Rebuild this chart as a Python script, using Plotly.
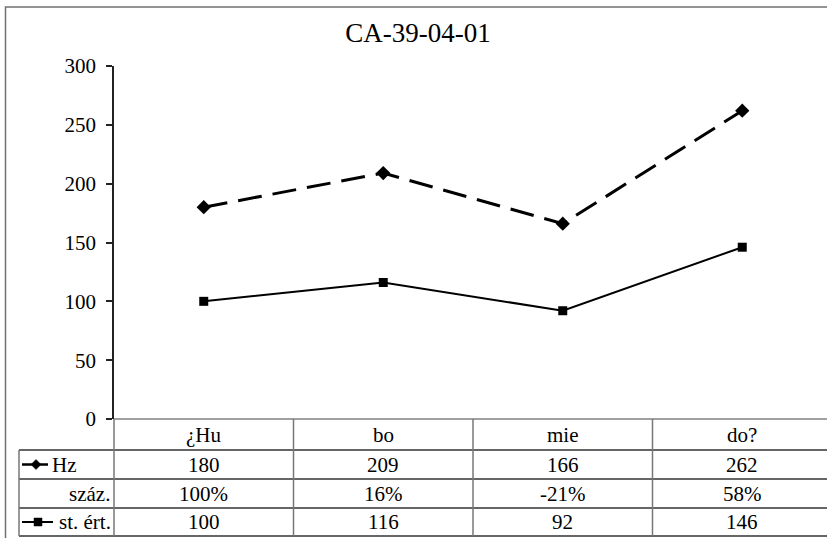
import plotly.graph_objects as go

# ---- data ----
categories = ["¿Hu", "bo", "mie", "do?"]
hz_values = [180, 209, 166, 262]
pct_labels = ["100%", "16%", "-21%", "58%"]
st_values = [100, 116, 92, 146]
y_ticks = [0, 50, 100, 150, 200, 250, 300]
row_names = ["Hz", "száz.", "st. ért."]

# ---- layout geometry (pixels) ----
W, H = 827, 538
PL, PR, PT, PB = 114, 827, 66, 419
COL_W = 179.5
ROW_EDGES = [419, 450, 479, 508, 536]
TABLE_LEFT = 19
FONT = "Liberation Serif, Times New Roman, serif"


def px(x):
    return (x - PL) / (PR - PL)


def py(y):
    return (PB - y) / (PB - PT)


x_max = (PR - PL) / COL_W - 0.5

fig = go.Figure()
fig.add_trace(go.Scatter(
    x=categories, y=hz_values, mode="lines+markers", name="Hz",
    line=dict(color="black", width=3, dash="24px,11px"),
    marker=dict(symbol="diamond", size=11, color="black"),
    cliponaxis=False,
))
fig.add_trace(go.Scatter(
    x=categories, y=st_values, mode="lines+markers", name="st. ért.",
    line=dict(color="black", width=2),
    marker=dict(symbol="square", size=9, color="black"),
    cliponaxis=False,
))

shapes = []
line_h = dict(color="#333333", width=1.5)
line_v = dict(color="#777777", width=1.5)

# outer chart border
shapes.append(dict(type="rect", xref="paper", yref="paper",
                   x0=px(5.5), x1=px(840), y0=py(545), y1=py(7),
                   line=dict(color="#707070", width=1.5)))

# data-table horizontal rules
shapes.append(dict(type="line", xref="paper", yref="paper",
                   x0=px(PL), x1=px(840), y0=py(ROW_EDGES[0]), y1=py(ROW_EDGES[0]),
                   line=dict(color="#808080", width=1.5)))
for yy in ROW_EDGES[1:]:
    shapes.append(dict(type="line", xref="paper", yref="paper",
                       x0=px(TABLE_LEFT), x1=px(840), y0=py(yy), y1=py(yy),
                       line=line_h))

# data-table vertical rules
shapes.append(dict(type="line", xref="paper", yref="paper",
                   x0=px(TABLE_LEFT), x1=px(TABLE_LEFT),
                   y0=py(ROW_EDGES[1]), y1=py(ROW_EDGES[-1]), line=line_v))
for i in range(len(categories)):
    xx = PL + i * COL_W
    shapes.append(dict(type="line", xref="paper", yref="paper",
                       x0=px(xx), x1=px(xx),
                       y0=py(ROW_EDGES[0]), y1=py(ROW_EDGES[-1]), line=line_v))

# legend keys inside the table
row_mid = [(ROW_EDGES[k] + ROW_EDGES[k + 1]) / 2 for k in range(4)]
hz_y = row_mid[1]
st_y = row_mid[3]
shapes.append(dict(type="line", xref="paper", yref="paper",
                   x0=px(22), x1=px(48), y0=py(hz_y), y1=py(hz_y),
                   line=dict(color="black", width=2.5)))
cx, r = 36, 5
shapes.append(dict(type="path", xref="paper", yref="paper",
                   path=f"M {px(cx - r)} {py(hz_y)} L {px(cx)} {py(hz_y - r)} "
                        f"L {px(cx + r)} {py(hz_y)} L {px(cx)} {py(hz_y + r)} Z",
                   fillcolor="black", line=dict(color="black", width=0.5)))
shapes.append(dict(type="line", xref="paper", yref="paper",
                   x0=px(22), x1=px(53), y0=py(st_y), y1=py(st_y),
                   line=dict(color="black", width=2)))
cx, r = 38, 4
shapes.append(dict(type="rect", xref="paper", yref="paper",
                   x0=px(cx - r), x1=px(cx + r), y0=py(st_y + r), y1=py(st_y - r),
                   fillcolor="black", line=dict(color="black", width=0.5)))

annotations = []
tfont = dict(family=FONT, size=21, color="black")

# header row and value rows
table_rows = [
    categories,
    [str(v) for v in hz_values],
    pct_labels,
    [str(v) for v in st_values],
]
for k, row in enumerate(table_rows):
    for cat, txt in zip(categories, row):
        annotations.append(dict(x=cat, xref="x", y=py(row_mid[k]), yref="paper",
                                text=txt, showarrow=False, font=tfont,
                                xanchor="center", yanchor="middle"))

# row labels
annotations.append(dict(x=px(50), xref="paper", y=py(row_mid[1]), yref="paper",
                        text=row_names[0], showarrow=False, font=tfont,
                        xanchor="left", yanchor="middle"))
annotations.append(dict(x=px(112), xref="paper", y=py(row_mid[2]), yref="paper",
                        text=row_names[1], showarrow=False, font=tfont,
                        xanchor="right", yanchor="middle"))
annotations.append(dict(x=px(113), xref="paper", y=py(row_mid[3]), yref="paper",
                        text=row_names[2], showarrow=False, font=tfont,
                        xanchor="right", yanchor="middle"))

fig.update_layout(
    width=W, height=H,
    margin=dict(l=PL, r=W - PR, t=PT, b=H - PB, pad=0),
    paper_bgcolor="white", plot_bgcolor="white",
    showlegend=False,
    title=dict(text="CA-39-04-01", x=px(418), xref="paper", xanchor="center",
               y=1 - 33 / H, yref="container", yanchor="middle",
               font=dict(family=FONT, size=27, color="black")),
    font=dict(family=FONT, color="black", size=21),
    xaxis=dict(type="category", range=[-0.5, x_max], showticklabels=False,
               showgrid=False, zeroline=False, showline=False, ticks=""),
    yaxis=dict(range=[0, 300], tickvals=y_ticks, showgrid=False, zeroline=False,
               showline=True, linecolor="#222222", linewidth=1.5,
               ticks="outside", ticklen=6, tickcolor="#222222", tickwidth=1.5,
               ticklabelstandoff=6,
               tickfont=dict(family=FONT, size=21, color="black")),
    shapes=shapes,
    annotations=annotations,
)

fig.write_html("out.html")
